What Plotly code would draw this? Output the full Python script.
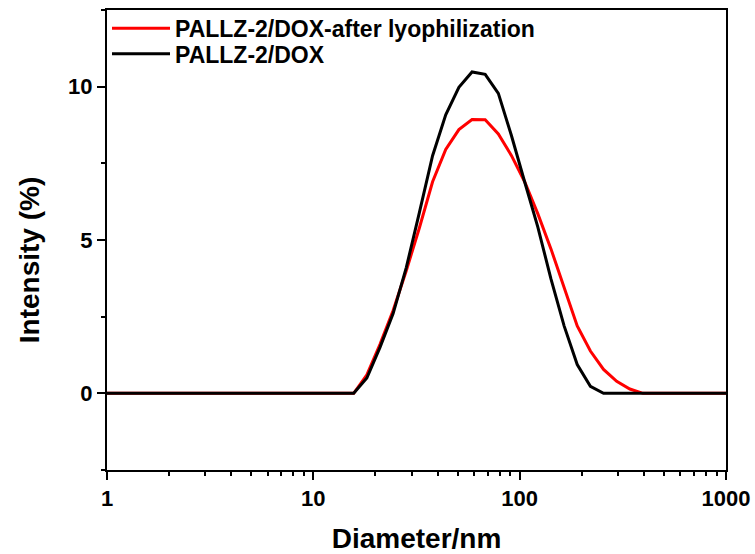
import plotly.graph_objects as go

# Malvern-style size bins (nm)
diameter = [0.8332, 0.9650, 1.117, 1.294, 1.499, 1.736, 2.010, 2.328, 2.696, 3.122,
            3.615, 4.187, 4.849, 5.615, 6.503, 7.531, 8.721, 10.10, 11.70, 13.54,
            15.69, 18.17, 21.04, 24.36, 28.21, 32.67, 37.84, 43.82, 50.75, 58.77,
            68.06, 78.82, 91.28, 105.7, 122.4, 141.8, 164.2, 190.1, 220.2, 255.0,
            295.3, 342.0, 396.1, 458.7, 531.2, 615.1, 712.4, 825.0, 955.4, 1106]

after_lyo = [0]*20 + [0.0, 0.6, 1.6, 2.7, 4.0, 5.4, 6.9, 7.95, 8.6, 8.93,
                      8.92, 8.46, 7.75, 6.9, 5.86, 4.71, 3.45, 2.2, 1.38, 0.78,
                      0.39, 0.14, 0.0, 0.0, 0.0, 0.0, 0.0, 0.0, 0.0, 0.0]

dox = [0]*20 + [0.0, 0.5, 1.5, 2.6, 4.1, 5.9, 7.75, 9.08, 9.98, 10.48,
                10.40, 9.78, 8.4, 6.9, 5.43, 3.73, 2.2, 0.94, 0.23, 0.0,
                0.0, 0.0, 0.0, 0.0, 0.0, 0.0, 0.0, 0.0, 0.0, 0.0]

x_ticks = [1, 10, 100, 1000]
x_minor = [m * d for d in (1, 10, 100) for m in range(2, 10)]
y_ticks = [0, 5, 10]
y_minor = [-2.5, 2.5, 7.5, 12.5]

FONT = "Liberation Sans, Arial, sans-serif"

fig = go.Figure()
fig.add_trace(go.Scatter(x=diameter, y=after_lyo, mode="lines",
                         name="PALLZ-2/DOX-after lyophilization", showlegend=True,
                         line=dict(color="#ff0000", width=3), legend="legend"))
fig.add_trace(go.Scatter(x=diameter, y=dox, mode="lines",
                         name="PALLZ-2/DOX", showlegend=True,
                         line=dict(color="#000000", width=3), legend="legend2"))

leg_common = dict(xanchor="left", yanchor="middle", bgcolor="rgba(0,0,0,0)",
                  borderwidth=0, font=dict(size=23, family=FONT, weight="bold"),
                  itemwidth=58)

fig.update_layout(
    width=755, height=554,
    showlegend=True,
    margin=dict(l=107, r=29, t=10, b=84, autoexpand=False),
    paper_bgcolor="white", plot_bgcolor="white",
    font=dict(family=FONT, size=22, color="black", weight="bold"),
    legend=dict(x=0.0, y=0.96, **leg_common),
    legend2=dict(x=0.0, y=0.905, **leg_common),
    xaxis=dict(type="log", range=[0, 3], tickvals=x_ticks,
               ticktext=[str(v) for v in x_ticks], automargin=False,
               ticks="outside", ticklen=8, tickwidth=2, tickcolor="black",
               showline=True, linecolor="black", linewidth=2, mirror=True,
               showgrid=False, zeroline=False,
               minor=dict(tickvals=x_minor, ticks="outside", ticklen=4,
                          tickwidth=2, tickcolor="black", showgrid=False),
               title=dict(text="Diameter/nm", font=dict(size=28, family=FONT, weight="bold"),
                          standoff=20)),
    yaxis=dict(range=[-2.5, 12.5], tickvals=y_ticks, automargin=False,
               ticks="outside", ticklen=8, tickwidth=2, tickcolor="black",
               showline=True, linecolor="black", linewidth=2, mirror=True,
               showgrid=False, zeroline=False,
               minor=dict(tickvals=y_minor, ticks="outside", ticklen=4,
                          tickwidth=2, tickcolor="black", showgrid=False)),
    annotations=[dict(text="Intensity (%)", textangle=-90, showarrow=False,
                      xref="paper", yref="paper", x=-0.126, y=0.456,
                      xanchor="center", yanchor="middle",
                      font=dict(size=28, family=FONT, weight="bold", color="black"))],
)

fig.write_html("out.html")
